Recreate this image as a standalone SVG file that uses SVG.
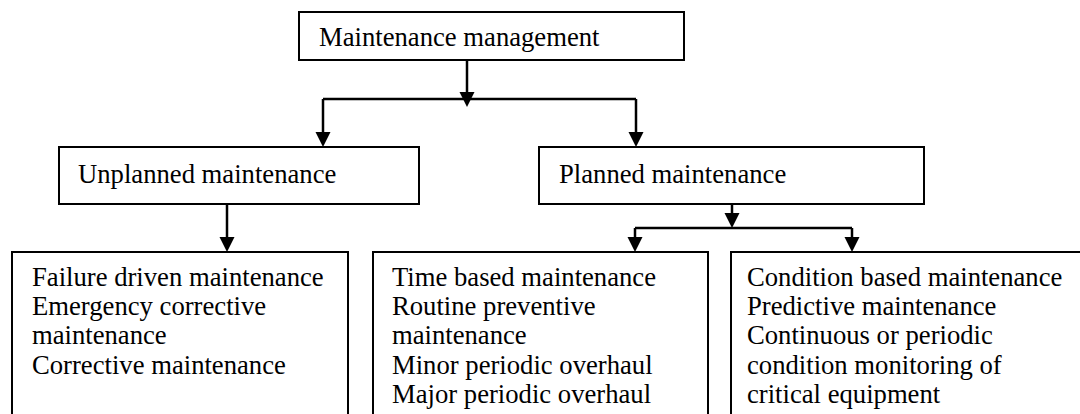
<svg xmlns="http://www.w3.org/2000/svg" width="1080" height="414" viewBox="0 0 1080 414">
<defs>
<style>
.box{fill:#fff;stroke:#000;stroke-width:2}
.t{font-family:"Liberation Serif","Times New Roman",serif;font-size:26.67px;fill:#000}
.c{fill:none;stroke:#000;stroke-width:2.5}
</style>
<marker id="ah" markerUnits="userSpaceOnUse" markerWidth="16" markerHeight="16" refX="0" refY="7.5" orient="auto">
<path d="M0,0 L15,7.5 L0,15 z" fill="#000"/>
</marker>
</defs>
<rect width="1080" height="414" fill="#fff"/>
<g id="n-root">
<rect class="box" x="299" y="12" width="385" height="48"/>
<text class="t" x="319" y="46">Maintenance management</text>
</g>
<g id="n-unplanned">
<rect class="box" x="59" y="147" width="360" height="57"/>
<text class="t" x="78" y="183">Unplanned maintenance</text>
</g>
<g id="n-planned">
<rect class="box" x="539" y="147" width="385" height="57"/>
<text class="t" x="559" y="183">Planned maintenance</text>
</g>
<g id="n-failure">
<rect class="box" x="12" y="252" width="336" height="180"/>
<text class="t" x="32"><tspan x="32" y="286">Failure driven maintenance</tspan><tspan x="32" y="315.2">Emergency corrective</tspan><tspan x="32" y="344.4">maintenance</tspan><tspan x="32" y="373.6">Corrective maintenance</tspan></text>
</g>
<g id="n-time">
<rect class="box" x="373" y="252" width="335" height="180"/>
<text class="t" x="392"><tspan x="392" y="286">Time based maintenance</tspan><tspan x="392" y="315.2">Routine preventive</tspan><tspan x="392" y="344.4">maintenance</tspan><tspan x="392" y="373.6">Minor periodic overhaul</tspan><tspan x="392" y="402.8">Major periodic overhaul</tspan></text>
</g>
<g id="n-condition">
<rect class="box" x="731" y="252" width="380" height="180"/>
<text class="t" x="747"><tspan x="747" y="286">Condition based maintenance</tspan><tspan x="747" y="315.2">Predictive maintenance</tspan><tspan x="747" y="344.4">Continuous or periodic</tspan><tspan x="747" y="373.6">condition monitoring of</tspan><tspan x="747" y="402.8">critical equipment</tspan></text>
</g>
<g id="connectors">
<path class="c" d="M467,60 V92" marker-end="url(#ah)"/>
<path class="c" d="M323,99 H636"/>
<path class="c" d="M323,99 V132" marker-end="url(#ah)"/>
<path class="c" d="M636,99 V132" marker-end="url(#ah)"/>
<path class="c" d="M227,204 V237" marker-end="url(#ah)"/>
<path class="c" d="M732,204 V213" marker-end="url(#ah)"/>
<path class="c" d="M635,228 H852"/>
<path class="c" d="M635,228 V237" marker-end="url(#ah)"/>
<path class="c" d="M852,228 V237" marker-end="url(#ah)"/>
</g>
</svg>
